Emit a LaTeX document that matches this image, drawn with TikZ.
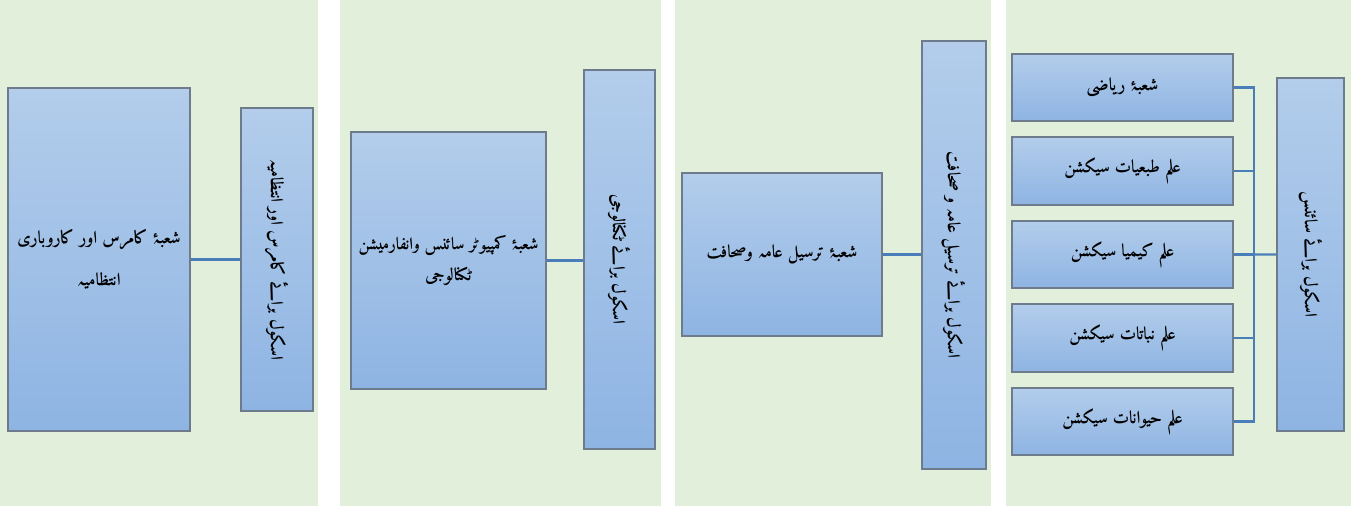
\documentclass[tikz,border=0pt]{standalone}
\usepackage{fontspec}
\usetikzlibrary{fit}
\IfFontExistsTF{Amiri-Bold.ttf}
  {\newfontfamily\urdufont[Script=Arabic,Language=Urdu]{Amiri-Bold.ttf}}
  {\newfontfamily\urdufont[Script=Arabic]{DejaVu Sans}}
\TeXXeTstate=1
\definecolor{panelgreen}{HTML}{E2EFDA}
\definecolor{boxtop}{HTML}{B3CDEB}
\definecolor{boxbottom}{HTML}{8EB4E3}
\definecolor{boxline}{HTML}{6D7B8D}
\definecolor{linkblue}{HTML}{4A7EBB}

\begin{document}
\begin{tikzpicture}[x=0.02cm,y=-0.02cm,
  panel/.style={fill=panelgreen},
  boxbase/.style={draw=boxline,line width=1pt,top color=boxtop,bottom color=boxbottom,inner sep=0pt},
  unitbox/.style={boxbase,label={[align=center,font=\urdufont\fontsize{10}{18}\selectfont]center:#1}},
  schoolbox/.style={boxbase,label={[rotate=-90,font=\urdufont\fontsize{10}{12}\selectfont]center:#1}},
  link/.style={draw=linkblue,line width=1.4pt}]
%\draw[help lines] (0,0) grid[step=50] (1351,506);
\useasboundingbox (0,0) rectangle (1351,506);

\fill[panel] (0,0) rectangle (318,506);
\fill[panel] (340,0) rectangle (661,506);
\fill[panel] (675,0) rectangle (991,506);
\fill[panel] (1006,0) rectangle (1351,506);

% commerce
\node[unitbox={\beginR شعبۂ کامرس اور کاروباری\endR\\[6pt]\beginR انتظامیہ\endR}, fit={(8,88)(190,431)}] (commerce) {};
\node[schoolbox={\beginR اسکول برائے کامرس اور انتظامیہ\endR}, fit={(241,108)(313,411)}] (commerce-school) {};

% technology
\node[unitbox={\fontsize{9.6}{18}\selectfont\beginR شعبۂ کمپیوٹر سائنس وانفارمیشن\endR\\\beginR ٹکنالوجی\endR}, fit={(351,132)(546,389)}] (computer) {};
\node[schoolbox={\beginR اسکول برائے ٹکنالوجی\endR}, fit={(584,70)(655,449)}] (tech-school) {};

% mass communication
\node[unitbox={\beginR شعبۂ ترسیل عامہ وصحافت\endR}, fit={(682,173)(882,336)}] (masscom) {};
\node[schoolbox={\beginR اسکول برائے ترسیل عامہ و صحافت\endR}, fit={(922,41)(986,469)}] (masscom-school) {};

% sciences
\node[unitbox={\beginR شعبۂ ریاضی\endR}, fit={(1012,54)(1233,121)}] (maths) {};
\node[unitbox={\beginR علم طبعیات سیکشن\endR}, fit={(1012,137)(1233,205)}] (physics) {};
\node[unitbox={\beginR علم کیمیا سیکشن\endR}, fit={(1012,221)(1233,288)}] (chemistry) {};
\node[unitbox={\beginR علم نباتات سیکشن\endR}, fit={(1012,304)(1233,372)}] (botany) {};
\node[unitbox={\beginR علم حیوانات سیکشن\endR}, fit={(1012,388)(1233,455)}] (zoology) {};
\node[schoolbox={\beginR اسکول برائے سائنس\endR}, fit={(1277,78)(1344,431)}] (science-school) {};
\coordinate (bus) at (1254,254.5);

\path[link]
(commerce.east) edge (commerce.east -| commerce-school.west)
(computer.east) edge (computer.east -| tech-school.west)
(masscom.east) edge (masscom.east -| masscom-school.west)
(bus) edge (science-school.west);

\draw[link] (maths.east) -| (bus) |- (zoology.east);
\draw[link] (physics.east) -- (physics.east -| bus);
\draw[link] (chemistry.east) -- (chemistry.east -| bus);
\draw[link] (botany.east) -- (botany.east -| bus);
\end{tikzpicture}
\end{document}
